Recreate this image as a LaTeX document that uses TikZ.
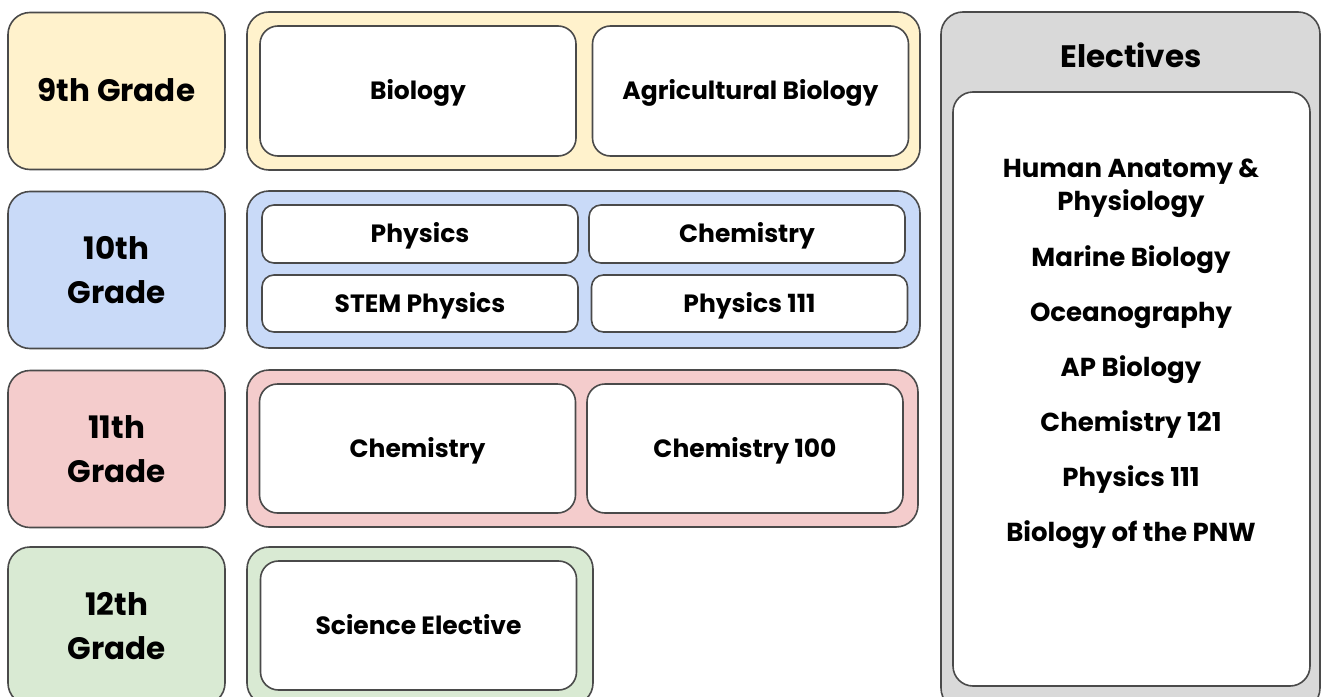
\documentclass[tikz,border=0pt]{standalone}
\usepackage{fontspec}
\setmainfont{Poppins}
\definecolor{edge}{HTML}{4A4A4A}
\definecolor{yellowfill}{HTML}{FFF2CC}
\definecolor{bluefill}{HTML}{C9DAF8}
\definecolor{redfill}{HTML}{F4CCCC}
\definecolor{greenfill}{HTML}{D9EAD3}
\definecolor{grayfill}{HTML}{D9D9D9}
\tikzset{
  grade/.style={draw=edge, line width=1.6pt, rounded corners=22pt, align=center,
    inner sep=0pt, minimum width=217pt, minimum height=157pt,
    font=\bfseries\fontsize{31}{44}\selectfont},
  band/.style={draw=edge, line width=1.6pt, rounded corners=22pt,
    inner sep=0pt, minimum height=157pt},
  course/.style={draw=edge, fill=white, line width=1.6pt, rounded corners=18pt,
    inner sep=0pt, minimum width=316pt, text height=17.5pt, text depth=0pt,
    font=\bfseries\fontsize{25}{30}\selectfont},
  item/.style={align=center, font=\bfseries\fontsize{26}{33}\selectfont}
}
\begin{document}
\begin{tikzpicture}[x=1pt,y=-1pt]
  \useasboundingbox (0,0) rectangle (1322,696);
  % grade labels
  \node[grade, fill=yellowfill, text height=21.5pt, text depth=0pt] (g9) at (116.5,91) {9th Grade};
  \node[grade, fill=bluefill] (g10) at (116.5,270) {10th\\Grade};
  \node[grade, fill=redfill] (g11) at (116.5,449) {11th\\Grade};
  \node[grade, fill=greenfill, minimum height=158pt] (g12) at (116.5,626) {12th\\Grade};
  % course bands
  \node[band, fill=yellowfill, minimum width=673pt, minimum height=158pt] (b9) at (583.5,91) {};
  \node[band, fill=bluefill, minimum width=673pt] (b10) at (583.5,269.5) {};
  \node[band, fill=redfill, minimum width=671pt] (b11) at (582.5,448.5) {};
  \node[band, fill=greenfill, minimum width=346pt, minimum height=158pt] (b12) at (420,626) {};
  % courses
  \node[course, minimum height=130pt] (bio) at (418,91) {Biology};
  \node[course, minimum height=130pt] (agbio) at (750.5,91) {Agricultural Biology};
  \node[course, minimum height=58pt, rounded corners=12pt] (phys) at (420,234) {Physics};
  \node[course, minimum height=58pt, rounded corners=12pt] (chem) at (747,234) {Chemistry};
  \node[course, minimum height=57pt, rounded corners=12pt] (stem) at (420,303.5) {STEM Physics};
  \node[course, minimum height=57pt, rounded corners=12pt] (phys111) at (749.5,303.5) {Physics 111};
  \node[course, minimum height=129pt] (chemb) at (417.5,448.5) {Chemistry};
  \node[course, minimum height=129pt] (chem100) at (745,448.5) {Chemistry 100};
  \node[course, minimum height=129pt] (scel) at (418.5,625.5) {Science Elective};
  % electives
  \node[band, fill=grayfill, minimum width=379pt, minimum height=698pt] (elec) at (1130.5,361) {};
  \node[font=\bfseries\fontsize{31}{36}\selectfont] (electitle) at (1131,55) {Electives};
  \node[course, minimum width=357pt, minimum height=594pt, rounded corners=20pt] (eleclist) at (1131.5,389) {};
  \foreach \y/\t [count=\i] in {188/{Human Anatomy \&\\Physiology}, 260/Marine Biology,
      315/Oceanography, 370/AP Biology, 425/Chemistry 121, 480/Physics 111,
      535/Biology of the PNW}
    \node[item] (e\i) at (1131,\y) {\t};
\end{tikzpicture}
\end{document}
